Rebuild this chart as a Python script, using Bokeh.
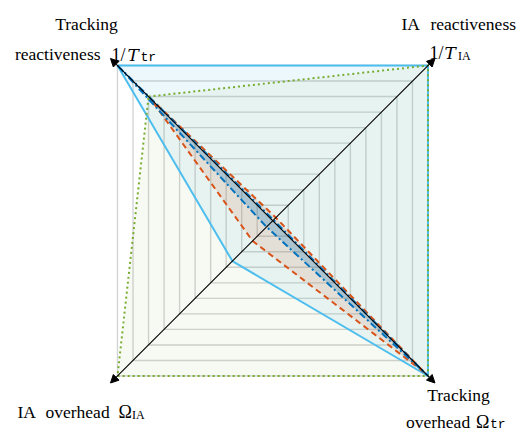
import numpy as np
from bokeh.plotting import figure
from bokeh.models import Range1d, Arrow, NormalHead
from bokeh.core.properties import value
from bokeh.embed import file_html
from bokeh.resources import INLINE

# ---- data -------------------------------------------------------------
axis_names = ["1/T_tr", "1/T_IA", "Omega_tr", "Omega_IA"]   # TL, TR, BR, BL
axis_angles_deg = [135, 45, -45, -135]
grid_levels = [0.1, 0.2, 0.3, 0.4, 0.5, 0.6, 0.7, 0.8, 0.9, 1.0]

series_lightblue = [1.00, 1.00, 1.00, 0.26]
series_green = [0.80, 1.00, 1.00, 1.00]
series_orange = [0.79, 0.02, 0.98, 0.13]
series_darkblue = [1.00, 0.005, 1.00, 0.04]

# ---- helpers ----------------------------------------------------------
ang = np.radians(axis_angles_deg)
R = np.sqrt(2.0)


def poly(vals):
    v = np.asarray(vals, dtype=float)
    return list(v * R * np.cos(ang)), list(v * R * np.sin(ang))


p = figure(width=524, height=435, output_backend="svg", toolbar_location=None,
           x_range=Range1d(-1.7536, 1.6216), y_range=Range1d(-1.3833, 1.4187),
           min_border=0, outline_line_color=None, background_fill_color="white")
p.axis.visible = False
p.xgrid.visible = False
p.ygrid.visible = False

# grid squares
for lv in grid_levels:
    xs, ys = poly([lv] * 4)
    p.line(xs + [xs[0]], ys + [ys[0]], line_color="#d4d4d4", line_width=1.4)

specs = [
    (series_lightblue, "#4DBEEE", "solid", 0.10),
    (series_green, "#77AC30", "2 3", 0.06),
    (series_orange, "#D95319", "6 4", 0.12),
    (series_darkblue, "#0072BD", "7 3 2 3", 0.25),
]
for vals, col, dash, alpha in specs:
    xs, ys = poly(vals)
    p.patch(xs, ys, fill_color=col, fill_alpha=alpha, line_color=None)
for vals, col, dash, alpha in specs:
    xs, ys = poly(vals)
    p.line(xs + [xs[0]], ys + [ys[0]], line_color=col, line_width=2,
           line_dash=dash)

# axes with arrows
ext = 1.045
for a in [np.radians(135), np.radians(45)]:
    x0, y0 = ext * R * np.cos(a), ext * R * np.sin(a)
    p.add_layout(Arrow(x_start=-x0, y_start=-y0, x_end=x0, y_end=y0,
                       line_color="black", line_width=1.1,
                       start=NormalHead(size=8, fill_color="black", line_color="black"),
                       end=NormalHead(size=8, fill_color="black", line_color="black")))

# labels (anchored on axis ends, offsets in px, y down)
SERIF = value("Liberation Serif")
MATHI = value("DejaVu Serif")
MONO = value("Liberation Mono")
FS = "17.5px"


def lab(corner, dx, dy, txt, size=FS, align="left", font=SERIF, style="normal"):
    cx, cy = poly([1.0 if i == corner else 0 for i in range(4)])
    p.text(x=[cx[corner]], y=[cy[corner]], text=[txt], x_offset=dx, y_offset=dy,
           text_font=font, text_font_size=size, text_align=align,
           text_baseline="alphabetic", text_color="black", text_font_style=style)


# TL corner (index 0)
lab(0, -31, -42, "Tracking", align="center")
lab(0, -17, -12, "reactiveness", align="right")
lab(0, -6, -11, "1/", size="18px")
lab(0, 10, -11, "T", size="17px", font=MATHI, style="italic")
lab(0, 23, -8, "tr", size="13px", font=MONO)
# TR corner (index 1)
lab(1, -26.5, -42, "IA")
lab(1, 2.5, -42, "reactiveness")
lab(1, 1.5, -13, "1/", size="18px")
lab(1, 16.5, -13, "T", size="17px", font=MATHI, style="italic")
lab(1, 30, -10, "IA", size="12px")
# BL corner (index 3)
lab(3, -100, 36.5, "IA")
lab(3, -72, 36.5, "overhead")
lab(3, 1, 36.5, "\u03a9", size="18px")
lab(3, 14.5, 39.5, "IA", size="12px")
# BR corner (index 2)
lab(2, 30.5, 19, "Tracking", align="center")
lab(2, -22, 46.5, "overhead")
lab(2, 48, 46.5, "\u03a9", size="18px")
lab(2, 62, 48.5, "tr", size="13px", font=MONO)

open("out.html", "w").write(file_html(p, INLINE))
